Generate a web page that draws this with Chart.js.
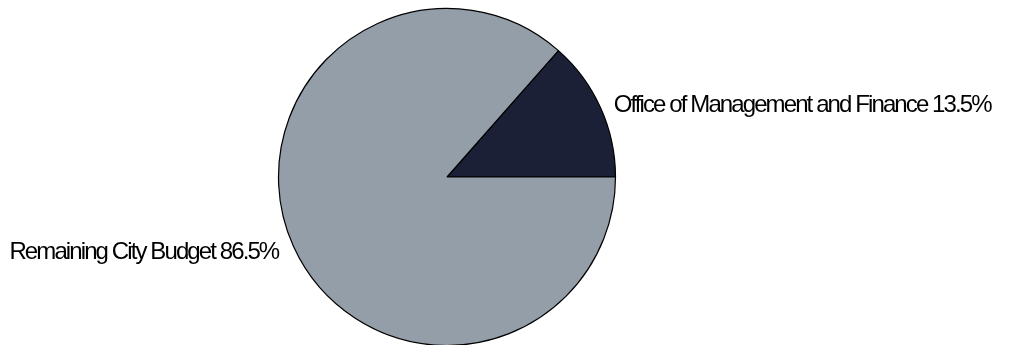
<!DOCTYPE html>
<html>
<head>
<meta charset="utf-8">
<script src="https://cdn.jsdelivr.net/npm/chart.js@4/dist/chart.umd.min.js"></script>
<style>
  html, body { margin: 0; padding: 0; background: #ffffff; }
  #wrap { width: 1009px; height: 345px; position: relative; }
</style>
</head>
<body>
<div id="wrap"><canvas id="budgetPie"></canvas></div>
<script>
// Share of the city budget
const categories = ['Office of Management and Finance', 'Remaining City Budget'];
const shares = [13.5, 86.5];
const sliceColors = ['#1c2036', '#949ea8'];

// Slice labels drawn just outside the pie at each slice's mid angle
const outsideLabels = {
  id: 'outsideLabels',
  afterDatasetsDraw(chart) {
    const ctx = chart.ctx;
    const meta = chart.getDatasetMeta(0);
    ctx.save();
    ctx.font = '24px "Liberation Sans", Arial, sans-serif';
    ctx.letterSpacing = '-1.9px';
    ctx.fillStyle = '#000000';
    ctx.textBaseline = 'alphabetic';
    meta.data.forEach((arc, i) => {
      const p = arc.getProps(['x', 'y', 'startAngle', 'endAngle', 'outerRadius'], true);
      const mid = (p.startAngle + p.endAngle) / 2;
      const r = p.outerRadius + 10;
      const cx = p.x + Math.cos(mid) * r;
      const cy = p.y + Math.sin(mid) * r;
      const text = categories[i] + ' ' + shares[i].toFixed(1) + '%';
      const right = Math.cos(mid) >= 0;
      ctx.textAlign = right ? 'left' : 'right';
      ctx.fillText(text, cx + (right ? 4 : -6), cy + 8.5);
    });
    ctx.restore();
  }
};

const total = shares.reduce((a, b) => a + b, 0);

new Chart(document.getElementById('budgetPie'), {
  type: 'pie',
  data: {
    labels: categories,
    datasets: [{
      data: shares,
      backgroundColor: sliceColors,
      borderColor: '#000000',
      borderWidth: 1.2,
      clip: false
    }]
  },
  options: {
    responsive: true,
    maintainAspectRatio: false,
    animation: false,
    // first slice ends on the 3 o'clock line
    rotation: 90 - 360 * shares[0] / total,
    radius: 168.5,
    layout: { padding: { top: 9, bottom: 0, left: 0, right: 115 } },
    plugins: {
      legend: { display: false },
      tooltip: { enabled: false }
    }
  },
  plugins: [outsideLabels]
});
</script>
</body>
</html>
